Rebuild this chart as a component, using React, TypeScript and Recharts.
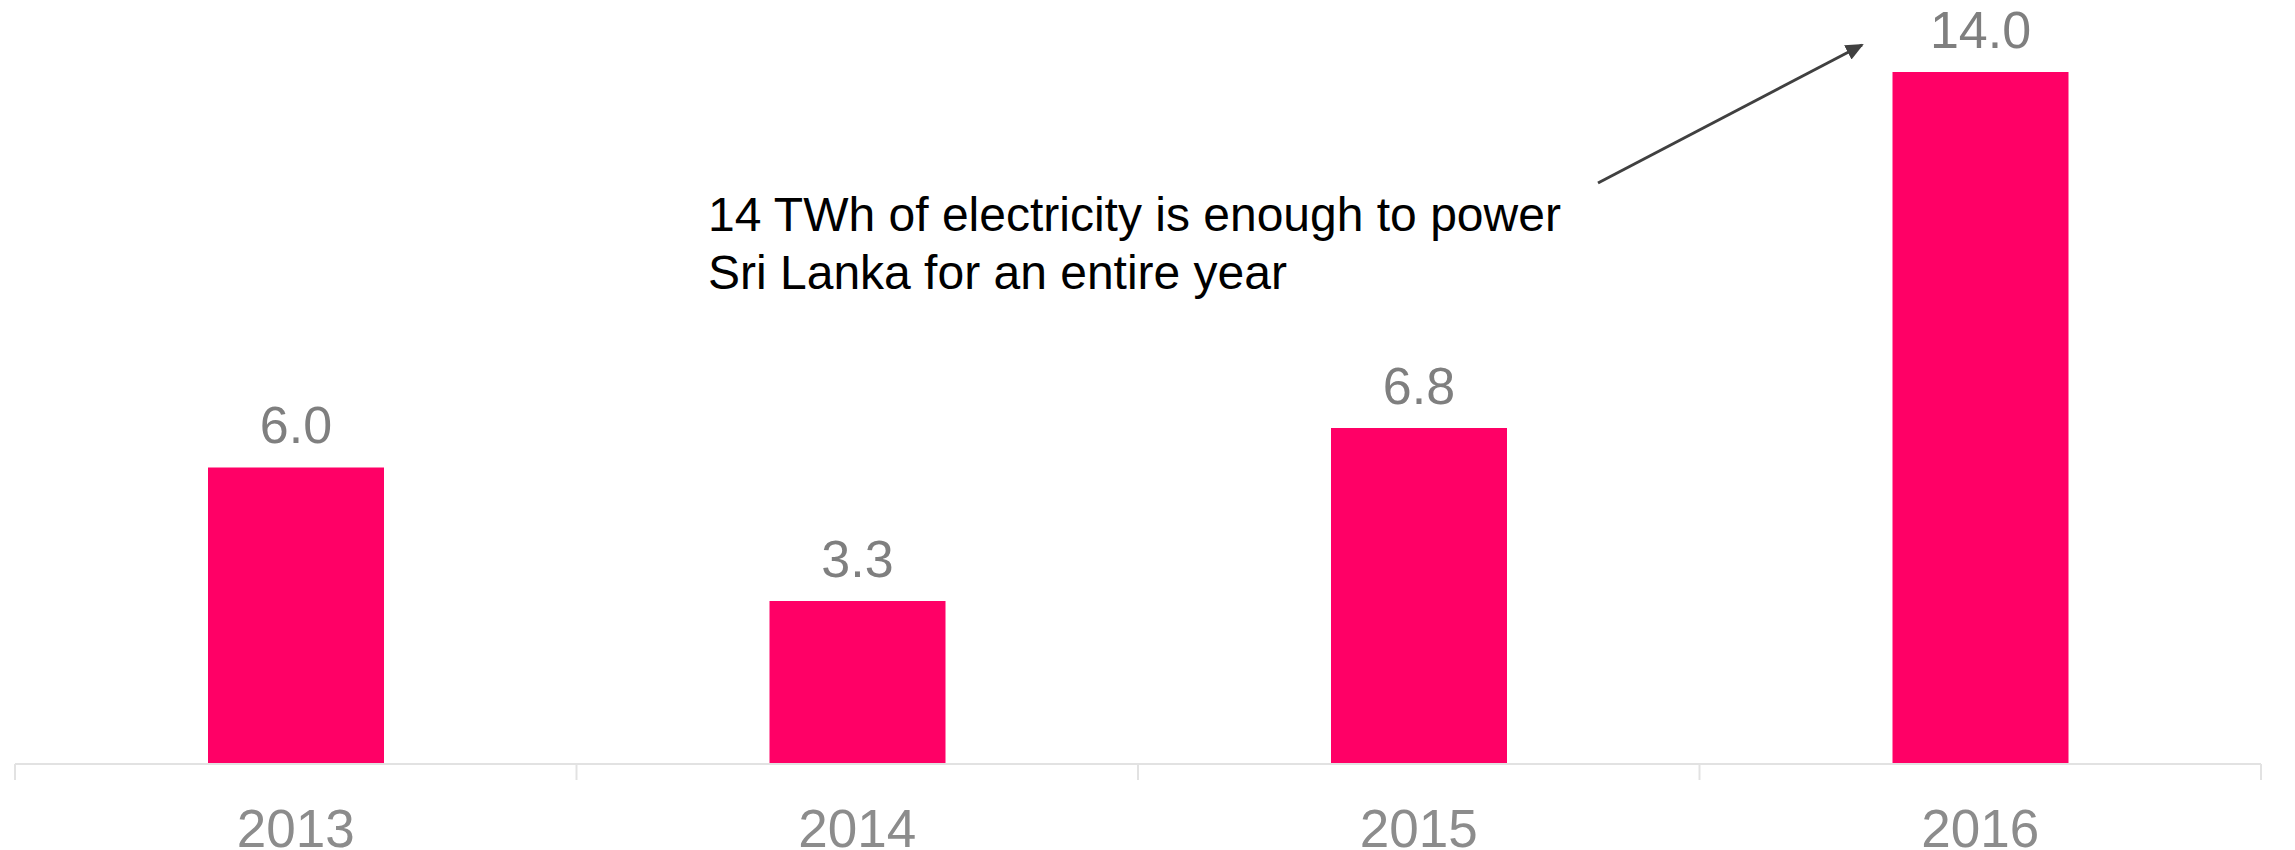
import React from "react";
import {
  BarChart,
  Bar,
  XAxis,
  YAxis,
  LabelList,
} from "recharts";

// values (TWh)
const years = ["2013", "2014", "2015", "2016"];
const twh = [6.0, 3.3, 6.8, 14.0];
const noteLines = [
  "14 TWh of electricity is enough to power",
  "Sri Lanka for an entire year",
];

const chartData = years.map((year, i) => ({ year, pos: i + 0.5, twh: twh[i] }));

// integer ticks = category borders, half ticks = category centres (labels)
const axisTicks: number[] = [];
for (let i = 0; i <= years.length * 2; i++) axisTicks.push(i / 2);

const FONT = "'Liberation Sans', Arial, Helvetica, sans-serif";

const YearTick = (props: any) => {
  const { x, y, payload } = props;
  const v = payload.value as number;
  if (Number.isInteger(v)) {
    return <line x1={x} y1={y} x2={x} y2={y + 16} stroke="#e2e2e2" strokeWidth={2} />;
  }
  return (
    <text
      x={x}
      y={y + 83}
      textAnchor="middle"
      fill="#8c8c8c"
      fontSize={53}
      fontFamily={FONT}
    >
      {years[Math.floor(v)]}
    </text>
  );
};

const App: React.FC = () => {
  return (
    <div style={{ position: "absolute", left: 0, top: 0, width: 2295, height: 850 }}>
      <BarChart
        width={2295}
        height={850}
        data={chartData}
        margin={{ top: 72, right: 34, left: 15, bottom: 6 }}
        barCategoryGap={0}
      >
        <XAxis dataKey="year" xAxisId="cat" hide height={0} />
        <XAxis
          dataKey="pos"
          xAxisId="num"
          type="number"
          domain={[0, years.length]}
          ticks={axisTicks}
          interval={0}
          height={80}
          tickSize={0}
          tickMargin={0}
          tickLine={false}
          axisLine={{ stroke: "#e2e2e2", strokeWidth: 2 }}
          tick={<YearTick />}
        />
        <YAxis hide domain={[0, 14]} />
        <Bar
          dataKey="twh"
          xAxisId="cat"
          fill="#ff0066"
          barSize={176}
          isAnimationActive={false}
        >
          <LabelList
            dataKey="twh"
            position="top"
            offset={24}
            formatter={(v: any) => Number(v).toFixed(1)}
            fill="#7f7f7f"
            fontSize={52}
            fontFamily={FONT}
          />
        </Bar>
      </BarChart>
      <svg
        width={2295}
        height={850}
        style={{ position: "absolute", left: 0, top: 0, pointerEvents: "none" }}
      >
        <defs>
          <marker
            id="arrowHead"
            markerWidth={20}
            markerHeight={20}
            refX={16}
            refY={8}
            orient="auto"
            markerUnits="userSpaceOnUse"
          >
            <path d="M0,0 L18,8 L0,16 Z" fill="#404040" />
          </marker>
        </defs>
        <line
          x1={1598}
          y1={183}
          x2={1862}
          y2={45}
          stroke="#404040"
          strokeWidth={3}
          markerEnd="url(#arrowHead)"
        />
        <text fontFamily={FONT} fontSize={48} fill="#000">
          {noteLines.map((line, i) => (
            <tspan key={i} x={708} y={231 + i * 58}>
              {line}
            </tspan>
          ))}
        </text>
      </svg>
    </div>
  );
};

export default App;
